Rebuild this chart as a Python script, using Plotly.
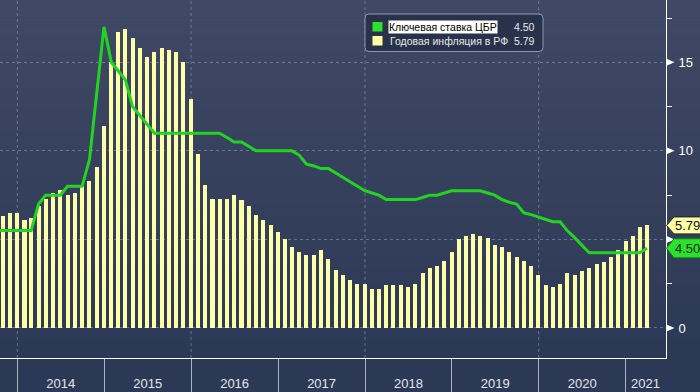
import pandas as pd
import plotly.graph_objects as go

# ---------------- data (monthly, end of month, Sep 2013 .. Mar 2021) ----------------
months = pd.date_range("2013-09-30", periods=91, freq="ME")

inflation = [
    6.1, 6.3, 6.5, 6.5,                                              # 2013 Sep-Dec
    6.1, 6.2, 6.9, 7.3, 7.6, 7.8, 7.5, 7.6, 8.0, 8.3, 9.1, 11.4,     # 2014
    15.0, 16.7, 16.9, 16.4, 15.8, 15.3, 15.6, 15.8, 15.7, 15.6, 15.0, 12.9,  # 2015
    9.8, 8.1, 7.3, 7.3, 7.3, 7.5, 7.2, 6.9, 6.4, 6.1, 5.8, 5.4,      # 2016
    5.0, 4.6, 4.3, 4.1, 4.1, 4.4, 3.9, 3.3, 3.0, 2.7, 2.5, 2.5,      # 2017
    2.2, 2.2, 2.4, 2.4, 2.4, 2.3, 2.5, 3.1, 3.4, 3.5, 3.8, 4.3,      # 2018
    5.0, 5.2, 5.3, 5.2, 5.1, 4.7, 4.6, 4.3, 4.0, 3.8, 3.5, 3.0,      # 2019
    2.4, 2.3, 2.5, 3.1, 3.0, 3.2, 3.4, 3.6, 3.7, 4.0, 4.4, 4.9,      # 2020
    5.2, 5.7, 5.79,                                                  # 2021
]

key_rate = [
    5.5, 5.5, 5.5, 5.5,                                              # 2013 Sep-Dec
    5.5, 5.5, 7.0, 7.5, 7.5, 7.5, 8.0, 8.0, 8.0, 9.5, 13.2, 17.0,    # 2014
    15.0, 14.5, 14.0, 12.5, 12.0, 11.5, 11.0, 11.0, 11.0, 11.0, 11.0, 11.0,  # 2015
    11.0, 11.0, 11.0, 11.0, 10.75, 10.5, 10.5, 10.25, 10.0, 10.0, 10.0, 10.0,  # 2016
    10.0, 10.0, 9.75, 9.25, 9.15, 9.0, 9.0, 8.75, 8.5, 8.25, 8.0, 7.75,  # 2017
    7.62, 7.5, 7.25, 7.25, 7.25, 7.25, 7.25, 7.37, 7.5, 7.5, 7.62, 7.75,  # 2018
    7.75, 7.75, 7.75, 7.75, 7.62, 7.5, 7.25, 7.1, 7.0, 6.5, 6.4, 6.25,    # 2019
    6.12, 6.0, 6.0, 5.5, 5.1, 4.7, 4.25, 4.25, 4.25, 4.25, 4.25, 4.25,    # 2020
    4.25, 4.25, 4.5,                                                 # 2021
]

name_rate = "Ключевая ставка ЦБР"
name_infl = "Годовая инфляция в РФ"
y_tick_vals = [0, 5, 10, 15]
y_tick_text = ["0", "", "10", "15"]
y_minor_vals = [2.5, 7.5, 12.5, 17.5]
grid_years = ["2014-01-01", "2016-01-01", "2018-01-01", "2020-01-01"]
x_range = ["2013-10-20", "2021-06-19"]
last_year_label = "2021"

# ---------------- styling ----------------
W, H = 700, 392
ML, MR, MT, MB = 0, 34, 0, 34
PW, PH = W - ML - MR, H - MT - MB

BAR_COL = "#ffffa8"
LINE_COL = "#22d322"
TAG_GREEN = "#2ee02e"
SANS = "Liberation Sans, Arial, sans-serif"


def px(x):
    return x / PW


def py(y):
    return (PH - y) / PH


fig = go.Figure()
fig.add_trace(go.Bar(
    x=months, y=inflation, name=name_infl,
    marker=dict(color=BAR_COL, line=dict(width=0)),
    width=17 * 86400000, showlegend=False, hoverinfo="skip",
))
fig.add_trace(go.Scatter(
    x=months, y=key_rate, name=name_rate, mode="lines",
    line=dict(color=LINE_COL, width=3), showlegend=False, hoverinfo="skip",
))

shapes = []
# background gradient
top_c = (63, 72, 100)
bot_c = (44, 57, 86)
n = 40
for i in range(n):
    t = i / (n - 1)
    c = tuple(round(top_c[k] + (bot_c[k] - top_c[k]) * t) for k in range(3))
    shapes.append(dict(type="rect", xref="paper", yref="paper", layer="below",
                       x0=-0.01, x1=1.07, y0=1 - (i + 1) / n, y1=1 - i / n + 0.002,
                       fillcolor="rgb(%d,%d,%d)" % c, line=dict(width=0)))
# vertical grid every 2 years
for g in grid_years:
    shapes.append(dict(type="line", xref="x", yref="paper", layer="between",
                       x0=g, x1=g, y0=0, y1=1,
                       line=dict(color="rgba(150,160,185,0.55)", width=1, dash="3px,3px")))


def rounded_rect(x0, y0, x1, y1, r):
    pts = [
        f"M{px(x0 + r)},{py(y0)}", f"L{px(x1 - r)},{py(y0)}",
        f"Q{px(x1)},{py(y0)} {px(x1)},{py(y0 + r)}", f"L{px(x1)},{py(y1 - r)}",
        f"Q{px(x1)},{py(y1)} {px(x1 - r)},{py(y1)}", f"L{px(x0 + r)},{py(y1)}",
        f"Q{px(x0)},{py(y1)} {px(x0)},{py(y1 - r)}", f"L{px(x0)},{py(y0 + r)}",
        f"Q{px(x0)},{py(y0)} {px(x0 + r)},{py(y0)}", "Z",
    ]
    return " ".join(pts)


# legend box
shapes.append(dict(type="path", xref="paper", yref="paper", layer="above",
                   path=rounded_rect(365, 14, 543, 51.5, 4),
                   fillcolor="#28324b", line=dict(color="#8f99ad", width=1)))
shapes.append(dict(type="rect", xref="paper", yref="paper", layer="above",
                   x0=px(372.5), x1=px(382.5), y0=py(31.5), y1=py(22),
                   fillcolor="#2ee02e", line=dict(width=0)))
shapes.append(dict(type="rect", xref="paper", yref="paper", layer="above",
                   x0=px(372.5), x1=px(382.5), y0=py(45.5), y1=py(36),
                   fillcolor=BAR_COL, line=dict(width=0)))

unit_px = PH / (18.517 + 1.694)

# small right-pointing tick markers on the value axis
for v in y_tick_vals:
    h = 3.5 / unit_px
    shapes.append(dict(type="path", xref="paper", yref="y", layer="above",
                       path=f"M{px(666.5)},{v - h} L{px(674.5)},{v} L{px(666.5)},{v + h} Z",
                       fillcolor="#ffffff", line=dict(width=0)))


# right-hand value tags (left-pointing)
def tag_path(val, half_units):
    tip, sh, rt = px(666.5), px(674), px(702)
    return (f"M{tip},{val} L{sh},{val + half_units} L{rt},{val + half_units} "
            f"L{rt},{val - half_units} L{sh},{val - half_units} Z")


shapes.append(dict(type="path", xref="paper", yref="y", layer="above",
                   path=tag_path(key_rate[-1], 9.5 / unit_px),
                   fillcolor=TAG_GREEN, line=dict(color="#118811", width=1)))
shapes.append(dict(type="path", xref="paper", yref="y", layer="above",
                   path=tag_path(inflation[-1], 8.5 / unit_px),
                   fillcolor=BAR_COL, line=dict(color="#222222", width=1)))

# centre of visible part of the last (partial) year; plotly drops this period label
ly0 = pd.Timestamp(last_year_label + "-01-01")
ly_mid = ly0 + (pd.Timestamp(x_range[1]) - ly0) / 2

annotations = [
    dict(xref="paper", yref="paper", x=px(388), y=py(27), xanchor="left", yanchor="middle",
         text=name_rate, showarrow=False, bgcolor="#ffffff", borderpad=0,
         font=dict(family=SANS, size=10.5, color="#000000")),
    dict(xref="paper", yref="paper", x=px(388), y=py(40.7), xanchor="left", yanchor="middle",
         text=name_infl, showarrow=False,
         font=dict(family=SANS, size=10.5, color="#e8e8e8")),
    dict(xref="paper", yref="paper", x=px(537), y=py(27), xanchor="right", yanchor="middle",
         text="%.2f" % key_rate[-1], showarrow=False,
         font=dict(family=SANS, size=10.5, color="#e8e8e8")),
    dict(xref="paper", yref="paper", x=px(537), y=py(40.7), xanchor="right", yanchor="middle",
         text="%.2f" % inflation[-1], showarrow=False,
         font=dict(family=SANS, size=10.5, color="#e8e8e8")),
    dict(xref="paper", yref="y", x=px(673), y=key_rate[-1], xanchor="left", yanchor="middle",
         text="%.2f" % key_rate[-1], showarrow=False,
         font=dict(family=SANS, size=13, color="#0b2a0b")),
    dict(xref="paper", yref="y", x=px(673), y=inflation[-1], xanchor="left", yanchor="middle",
         text="%.2f" % inflation[-1], showarrow=False,
         font=dict(family=SANS, size=13, color="#111111")),
    dict(xref="x", yref="paper", x=ly_mid, y=py(383.5), xanchor="center", yanchor="middle",
         text=last_year_label, showarrow=False,
         font=dict(family=SANS, size=13, color="#e6e6e6")),
]

fig.update_layout(
    template="none",
    width=W, height=H, autosize=False,
    margin=dict(l=ML, r=MR, t=MT, b=MB, pad=0, autoexpand=False),
    paper_bgcolor="rgb(44,57,86)", plot_bgcolor="rgba(0,0,0,0)",
    bargap=0, showlegend=False,
    shapes=shapes, annotations=annotations,
    xaxis=dict(
        type="date", range=x_range, automargin=False,
        tick0="2014-01-01", dtick="M12", tickformat="%Y", ticklabelmode="period",
        ticks="outside", ticklen=34, tickcolor="#a9b1c3", tickwidth=1,
        ticklabelstandoff=-21,
        showgrid=False, zeroline=False,
        showline=True, linecolor="#ffffff", linewidth=1,
        tickfont=dict(family=SANS, size=13, color="#e6e6e6"),
    ),
    yaxis=dict(
        side="right", range=[-1.694, 18.517], automargin=False,
        tickmode="array", tickvals=y_tick_vals, ticktext=y_tick_text,
        ticks="", showgrid=True, gridcolor="rgba(150,160,185,0.55)", gridwidth=1,
        griddash="3px,3px", zeroline=False,
        showline=True, linecolor="#ffffff", linewidth=1,
        minor=dict(tickmode="array", tickvals=y_minor_vals, ticks="outside",
                   ticklen=5, tickcolor="#ffffff", tickwidth=1, showgrid=False),
        tickfont=dict(family=SANS, size=13, color="#ffffff"),
        ticklabelstandoff=9,
    ),
)

fig.write_html("out.html", config={"displayModeBar": False},
               post_script="document.body.style.margin='0px';")
